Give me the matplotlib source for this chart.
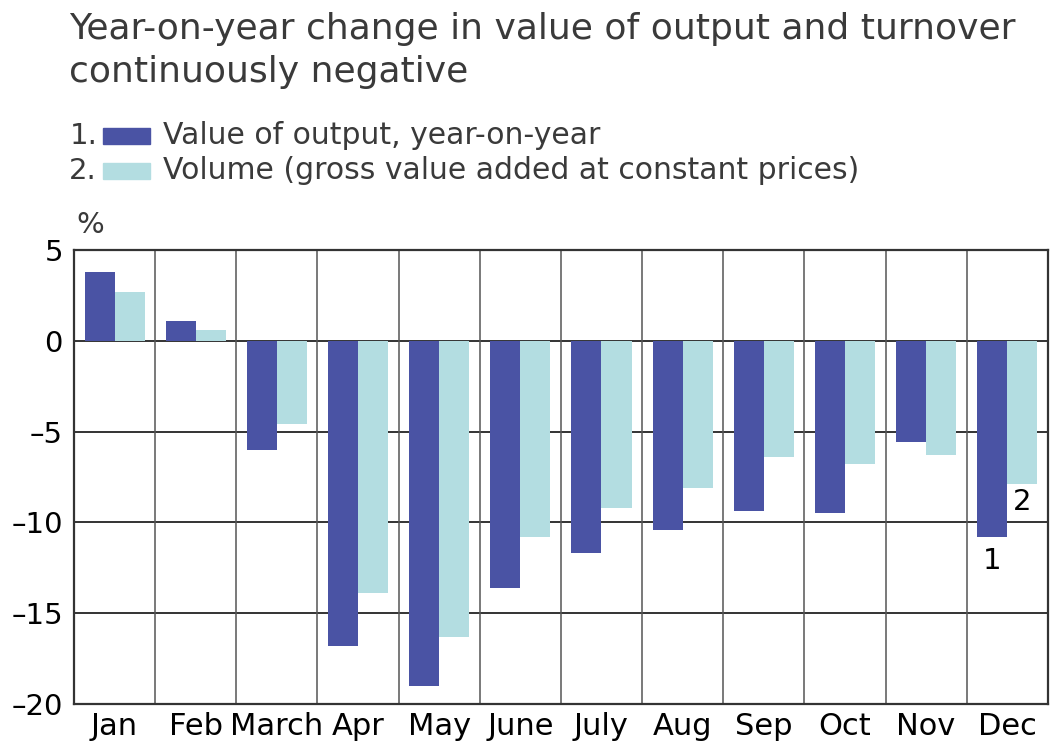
import matplotlib.pyplot as plt
import matplotlib.patches as mpatches
import numpy as np

plt.rcParams['font.family'] = ['DejaVu Sans']

months = ["Jan", "Feb", "March", "Apr", "May", "June", "July", "Aug", "Sep", "Oct", "Nov", "Dec"]
output_value = [3.8, 1.1, -6.0, -16.8, -19.0, -13.6, -11.7, -10.4, -9.4, -9.5, -5.6, -10.8]
volume_gva = [2.7, 0.6, -4.6, -13.9, -16.3, -10.8, -9.2, -8.1, -6.4, -6.8, -6.3, -7.9]
yticks = [5, 0, -5, -10, -15, -20]
ytick_labels = ["5", "0", "\u20135", "\u201310", "\u201315", "\u201320"]

dark = "#4a53a4"
light = "#b3dde1"
txt = "#3a3a3a"
fontsize = 21

fig = plt.figure(figsize=(10.51, 7.46), dpi=100)
ax = fig.add_axes([0.0704, 0.0563, 0.9266, 0.6087])

x = np.arange(len(months))
w = 0.37
ax.bar(x - w / 2, output_value, width=w, color=dark, zorder=3)
ax.bar(x + w / 2, volume_gva, width=w, color=light, zorder=3)

ax.set_xlim(-0.5, len(months) - 0.5)
ax.set_ylim(-20, 5)
for yv in yticks:
    ax.axhline(yv, color="#333333", linewidth=1.4, zorder=2)
for xv in np.arange(0.5, len(months) - 0.5):
    ax.axvline(xv, color="#555555", linewidth=1.1, zorder=2)

ax.set_yticks(yticks)
ax.set_yticklabels(ytick_labels, fontsize=21, color="black")
ax.set_xticks(x)
ax.set_xticklabels(months, fontsize=22, color="black")
ax.tick_params(length=0, pad=6)
ax.tick_params(axis="y", pad=8)
for s in ax.spines.values():
    s.set_color("#333333")
    s.set_linewidth(1.6)

# bar labels in Dec
ax.text(x[-1] - w / 2, output_value[-1] - 1.3, "1", ha="center", va="center", fontsize=fontsize, color="black", zorder=4)
ax.text(x[-1] + w / 2, volume_gva[-1] - 1.0, "2", ha="center", va="center", fontsize=fontsize, color="black", zorder=4)

fig.text(0.0725, 0.698, "%", fontsize=fontsize, color=txt, ha="left", va="center")

fig.text(0.066, 0.984, "Year-on-year change in value of output and turnover\ncontinuously negative",
         fontsize=26, color=txt, ha="left", va="top", linespacing=1.32)

# legend
leg_items = [("1.", dark, "Value of output, year-on-year"),
             ("2.", light, "Volume (gross value added at constant prices)")]
for i, (num, col, lab) in enumerate(leg_items):
    yc = 0.818 - i * 0.047
    fig.text(0.066, yc, num, fontsize=fontsize, color=txt, ha="left", va="center")
    fig.patches.append(mpatches.Rectangle((0.098, yc - 0.011), 0.045, 0.022, color=col,
                                          transform=fig.transFigure, figure=fig))
    fig.text(0.155, yc, lab, fontsize=21.5, color=txt, ha="left", va="center")

fig.savefig("out.png", dpi=100)
